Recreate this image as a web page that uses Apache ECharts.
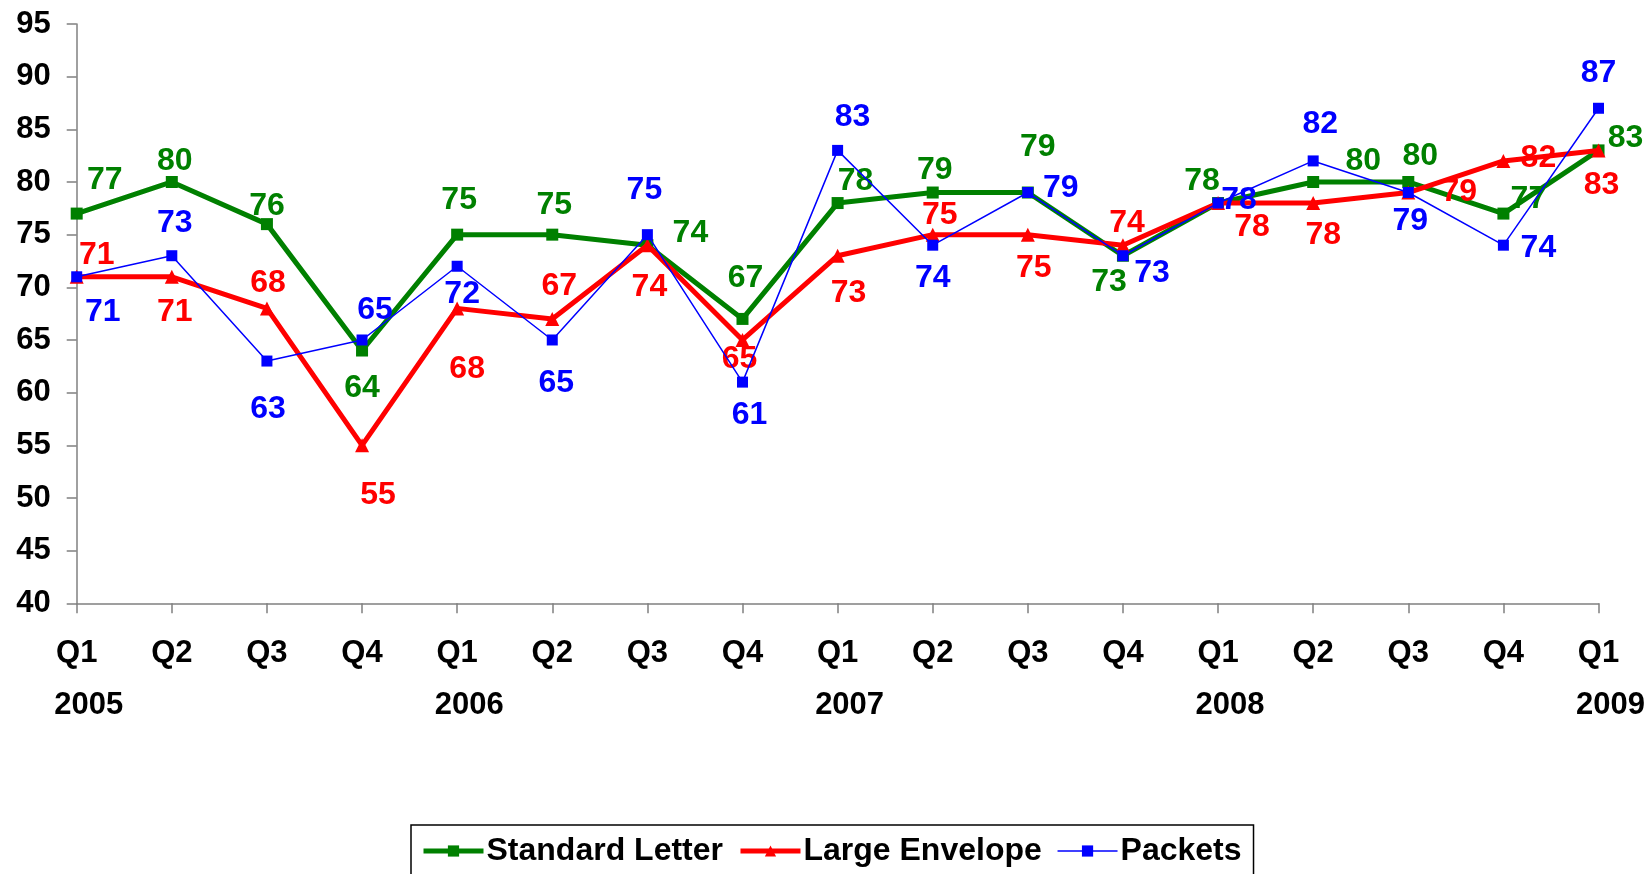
<!DOCTYPE html>
<html>
<head>
<meta charset="utf-8">
<script src="https://cdn.jsdelivr.net/npm/echarts@6/dist/echarts.min.js"></script>
<style>
html,body{margin:0;padding:0;background:#fff;}
#chart{width:1648px;height:874px;}
</style>
</head>
<body>
<div id="chart"></div>
<script>
var quarters = ['Q1','Q2','Q3','Q4','Q1','Q2','Q3','Q4','Q1','Q2','Q3','Q4','Q1','Q2','Q3','Q4','Q1'];
var years = ['2005','','','','2006','','','','2007','','','','2008','','','','2009'];
var standardLetter = [77,80,76,64,75,75,74,67,78,79,79,73,78,80,80,77,83];
var largeEnvelope = [71,71,68,55,68,67,74,65,73,75,75,74,78,78,79,82,83];
var packets = [71,73,63,65,72,65,75,61,83,74,79,73,78,82,79,74,87];

// label offsets (px) from each point, as placed in the original
var greenOffsets = [[28,-33],[3,-21],[0,-18],[0,38],[2,-34],[2,-29],[43,-12],[3,-41],[18,-22],[2,-22],[10,-45],[-14,26],[-16,-22],[50,-21],[12,-26],[25,-14],[27,-12]];
var redOffsets = [[20,-22],[3,35],[1,-25],[16,50],[10,61],[7,-33],[2,42],[-3,19],[11,37],[7,-19],[6,34],[4,-22],[34,24],[10,32],[51,0],[35,-3],[3,35]];
var blueOffsets = [[26,35],[3,-33],[1,48],[13,-30],[5,28],[4,43],[-3,-44],[7,33],[15,-33],[0,33],[33,-4],[29,17],[21,-3],[7,-37],[2,29],[35,3],[0,-35]];

var FONT = 'Liberation Sans, Arial, sans-serif';

function withLabels(values, offsets, color) {
  return values.map(function (v, i) {
    return {
      value: v,
      label: {
        show: true,
        position: 'inside',
        offset: offsets[i],
        color: color,
        fontFamily: FONT,
        fontWeight: 'bold',
        fontSize: 32,
        align: 'center',
        verticalAlign: 'middle'
      }
    };
  });
}

var chart = echarts.init(document.getElementById('chart'));
chart.setOption({
  animation: false,
  backgroundColor: '#fff',
  textStyle: {fontFamily: FONT},
  grid: {left: 76.7, right: 48, top: 24, bottom: 270.7, containLabel: false},
  xAxis: {
    type: 'category',
    data: quarters,
    boundaryGap: false,
    axisLine: {lineStyle: {color: '#808080', width: 1.5}},
    axisTick: {show: true, length: 10, alignWithLabel: true, lineStyle: {color: '#808080', width: 1.5}},
    axisLabel: {
      interval: 0,
      margin: 24,
      formatter: function (val, idx) {
        return '{q|' + val + '}\n{y|' + (years[idx] || ' ') + '}';
      },
      rich: {
        q: {fontSize: 31, fontWeight: 'bold', color: '#000', lineHeight: 52, fontFamily: FONT},
        y: {fontSize: 31, fontWeight: 'bold', color: '#000', lineHeight: 52, fontFamily: FONT, padding: [0, 0, 0, 24]}
      }
    },
    splitLine: {show: false}
  },
  yAxis: {
    type: 'value',
    min: 40,
    max: 95,
    interval: 5,
    axisLine: {show: true, lineStyle: {color: '#808080', width: 1.5}},
    axisTick: {show: true, length: 10, lineStyle: {color: '#808080', width: 1.5}},
    axisLabel: {margin: 26, fontSize: 31, fontWeight: 'bold', color: '#000', fontFamily: FONT},
    splitLine: {show: false}
  },
  legend: {
    left: 411,
    top: 825,
    padding: [10, 12, 10, 10],
    borderColor: '#000',
    borderWidth: 1.5,
    itemWidth: 60,
    itemHeight: 14,
    itemGap: 15,
    textStyle: {fontSize: 32, fontWeight: 'bold', color: '#000', fontFamily: FONT, padding: [0, 0, 0, -2]},
    data: [
      {name: 'Standard Letter', lineStyle: {width: 5}},
      {name: 'Large Envelope', lineStyle: {width: 5}},
      {name: 'Packets', lineStyle: {width: 1.5}}
    ]
  },
  series: [
    {
      name: 'Standard Letter',
      type: 'line',
      data: withLabels(standardLetter, greenOffsets, '#008000'),
      color: '#008000',
      lineStyle: {width: 5, color: '#008000'},
      symbol: 'rect',
      symbolSize: 12,
      itemStyle: {color: '#008000'},
      z: 2
    },
    {
      name: 'Large Envelope',
      type: 'line',
      data: withLabels(largeEnvelope, redOffsets, '#FF0000'),
      color: '#FF0000',
      lineStyle: {width: 5, color: '#FF0000'},
      symbol: 'triangle',
      symbolSize: 14,
      itemStyle: {color: '#FF0000'},
      z: 3
    },
    {
      name: 'Packets',
      type: 'line',
      data: withLabels(packets, blueOffsets, '#0000FF'),
      color: '#0000FF',
      lineStyle: {width: 1.5, color: '#0000FF'},
      symbol: 'rect',
      symbolSize: 11,
      itemStyle: {color: '#0000FF'},
      z: 4
    }
  ]
});
</script>
</body>
</html>
